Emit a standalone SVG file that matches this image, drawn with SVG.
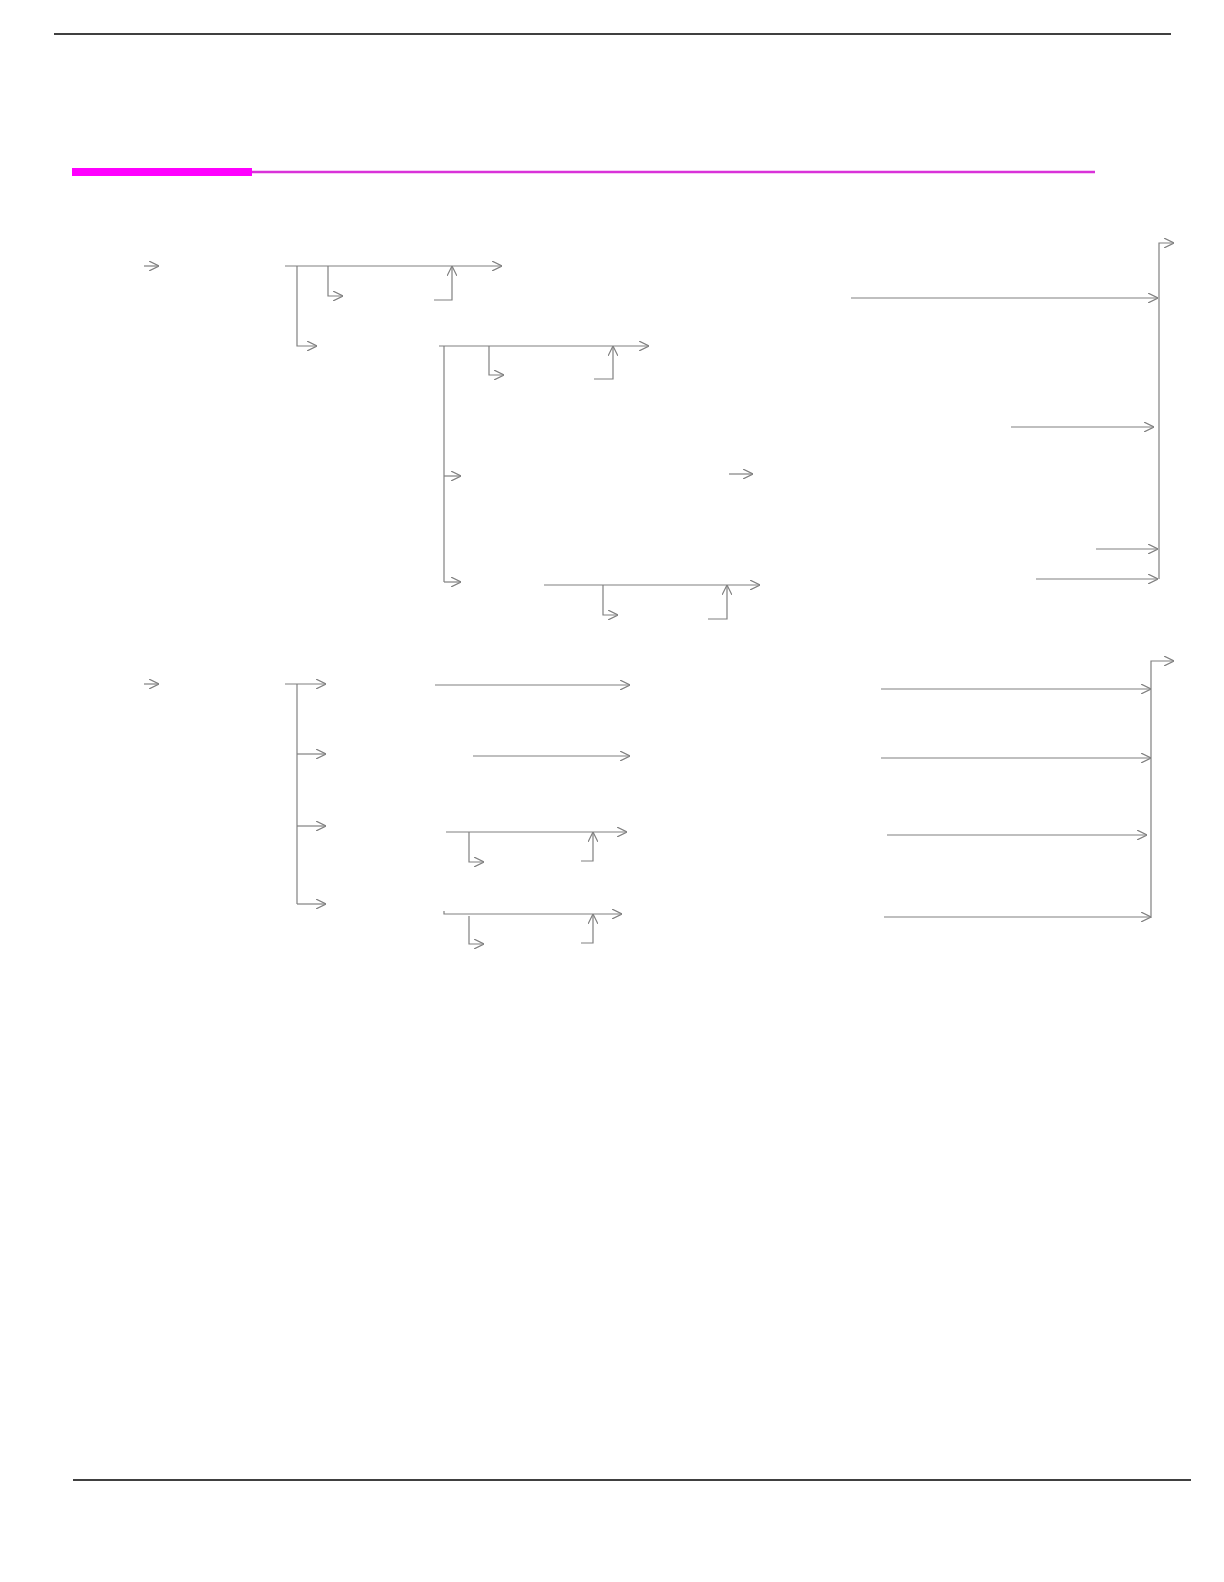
<svg xmlns="http://www.w3.org/2000/svg" width="1224" height="1582" viewBox="0 0 1224 1582">
<style>
.c{fill:none;stroke:#808080;stroke-width:1.2;marker-end:url(#ah)}
.p{fill:none;stroke:#808080;stroke-width:1.2}
.rule{stroke:#000;stroke-width:1.5}
</style>
<defs>
<marker id="ah" viewBox="0 0 10 10" refX="10" refY="5" markerWidth="10" markerHeight="10" markerUnits="userSpaceOnUse" orient="auto">
<path d="M0,0 L10,5 L0,10" fill="none" stroke="#808080" stroke-width="1.2"/>
</marker>
</defs>
<rect width="1224" height="1582" fill="#fff"/>
<g id="page">
<line class="rule" x1="54" y1="34" x2="1171" y2="34"/>
<rect x="72" y="168" width="180" height="8" fill="#ff00ff"/>
<line x1="252" y1="172" x2="1095" y2="172" stroke="#d932d9" stroke-width="2.5"/>
<line class="rule" x1="73" y1="1480" x2="1191" y2="1480"/>
</g>
<g id="connectors">
<!-- section 1 -->
<path class="c" d="M144,266 H159"/>
<path class="c" d="M285,266 H502"/>
<path class="c" d="M297,266 V346 H317"/>
<path class="c" d="M328,266 V296 H343"/>
<path class="c" d="M434,300 H452 V266"/>
<path class="c" d="M439,346 H649"/>
<path class="p" d="M444,346 V582"/>
<path class="c" d="M444,476 H461"/>
<path class="c" d="M444,582 H461"/>
<path class="c" d="M489,346 V375 H504"/>
<path class="c" d="M594,379 H613 V346"/>
<path class="c" d="M729,474 H753"/>
<path class="c" d="M544,585 H760"/>
<path class="c" d="M603,585 V615 H618"/>
<path class="c" d="M708,619 H727 V585"/>
<path class="c" d="M851,298 H1158"/>
<path class="c" d="M1011,427 H1154"/>
<path class="c" d="M1096,549 H1158"/>
<path class="c" d="M1036,579 H1158"/>
<path class="c" d="M1159,579 V243 H1174"/>
<!-- section 2 -->
<path class="c" d="M144,684 H159"/>
<path class="c" d="M285,684 H326"/>
<path class="p" d="M297,684 V904"/>
<path class="c" d="M297,754 H326"/>
<path class="c" d="M297,826 H326"/>
<path class="c" d="M297,904 H326"/>
<path class="c" d="M435,685 H630"/>
<path class="c" d="M473,756 H630"/>
<path class="c" d="M446,832 H627"/>
<path class="c" d="M469,832 V862 H484"/>
<path class="c" d="M581,861 H593 V832"/>
<path class="c" d="M444,911 V914 H622"/>
<path class="c" d="M469,916 V944 H484"/>
<path class="c" d="M581,943 H593 V914"/>
<path class="c" d="M881,689 H1151"/>
<path class="c" d="M881,758 H1151"/>
<path class="c" d="M887,835 H1147"/>
<path class="c" d="M884,917 H1151"/>
<path class="c" d="M1151,918 V661 H1174"/>
</g>
</svg>
